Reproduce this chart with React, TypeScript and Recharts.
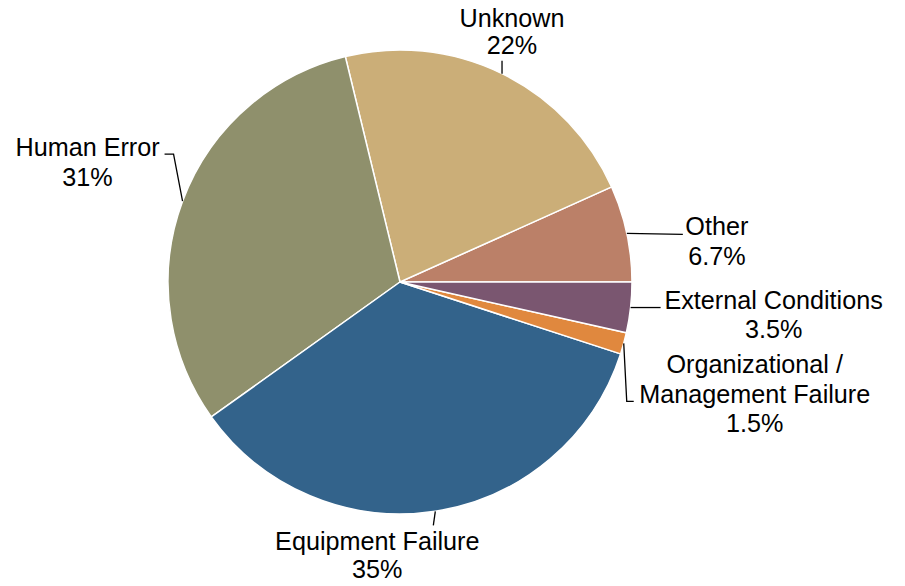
import { PieChart, Pie, Cell } from "recharts";

const categories = [
  "Other",
  "Unknown",
  "Human Error",
  "Equipment Failure",
  "Organizational / Management Failure",
  "External Conditions",
];
const shares = [6.7, 22, 31, 35, 1.5, 3.5];
const shareLabels = ["6.7%", "22%", "31%", "35%", "1.5%", "3.5%"];
const labelLines = [
  ["Other"],
  ["Unknown"],
  ["Human Error"],
  ["Equipment Failure"],
  ["Organizational /", "Management Failure"],
  ["External Conditions"],
];
const colors = ["#bb8068", "#cbae78", "#8f906c", "#33638b", "#e0883e", "#7a5670"];

// leader line elbows and text placement, relative to the slice's outer edge point
const layout: Record<string, { line: number[][]; tx: number; ty: number; gap: number }> = {
  Other: { line: [[0, 0], [56, 1]], tx: 90, ty: 2, gap: 29.5 },
  Unknown: { line: [[0, 0], [0, -13]], tx: 10, ty: -47, gap: 27 },
  "Human Error": { line: [[0, 0], [-9, -47], [-18, -47]], tx: -95, ty: -45, gap: 30 },
  "Equipment Failure": { line: [[0, 0], [-2, 14]], tx: -58, ty: 39, gap: 28 },
  "Organizational / Management Failure": { line: [[0, 0], [3, 58], [10, 58]], tx: 131, ty: 30, gap: 29.5 },
  "External Conditions": { line: [[0, 0], [30, 0]], tx: 143, ty: 1, gap: 29.5 },
};

const data = categories.map((name, i) => ({
  name,
  value: shares[i],
  pct: shareLabels[i],
  lines: labelLines[i],
}));

const RAD = Math.PI / 180;

const renderLabel = (props: any) => {
  const { cx, cy, midAngle, outerRadius, payload, index } = props;
  const name = payload?.name ?? categories[index];
  const cfg = layout[name];
  const ex = cx + outerRadius * Math.cos(-midAngle * RAD);
  const ey = cy + outerRadius * Math.sin(-midAngle * RAD);
  const pts = cfg.line.map(([dx, dy]) => `${ex + dx},${ey + dy}`).join(" ");
  const rows = [...(payload?.lines ?? labelLines[index]), payload?.pct ?? shareLabels[index]];
  return (
    <g key={`lbl-${index}`}>
      <polyline points={pts} fill="none" stroke="#000" strokeWidth={1.3} />
      <text
        x={ex + cfg.tx}
        y={ey + cfg.ty}
        textAnchor="middle"
        fontSize={25.2}
        fontFamily="'Liberation Sans', Arial, sans-serif"
        fill="#000"
      >
        {rows.map((r: string, k: number) => (
          <tspan key={k} x={ex + cfg.tx} dy={k === 0 ? 0 : cfg.gap}>
            {r}
          </tspan>
        ))}
      </text>
    </g>
  );
};

export default function App() {
  return (
    <div style={{ position: "absolute", left: 0, top: 0, background: "#fff" }}>
      <PieChart width={905} height={586} margin={{ top: 0, right: 0, bottom: 0, left: 0 }}>
        <Pie
          data={data}
          dataKey="value"
          nameKey="name"
          cx={400}
          cy={282}
          outerRadius={232}
          startAngle={0}
          endAngle={360}
          stroke="#fff"
          strokeWidth={1.5}
          label={renderLabel}
          labelLine={false}
          isAnimationActive={false}
        >
          {data.map((d, i) => (
            <Cell key={d.name} fill={colors[i]} />
          ))}
        </Pie>
      </PieChart>
    </div>
  );
}
